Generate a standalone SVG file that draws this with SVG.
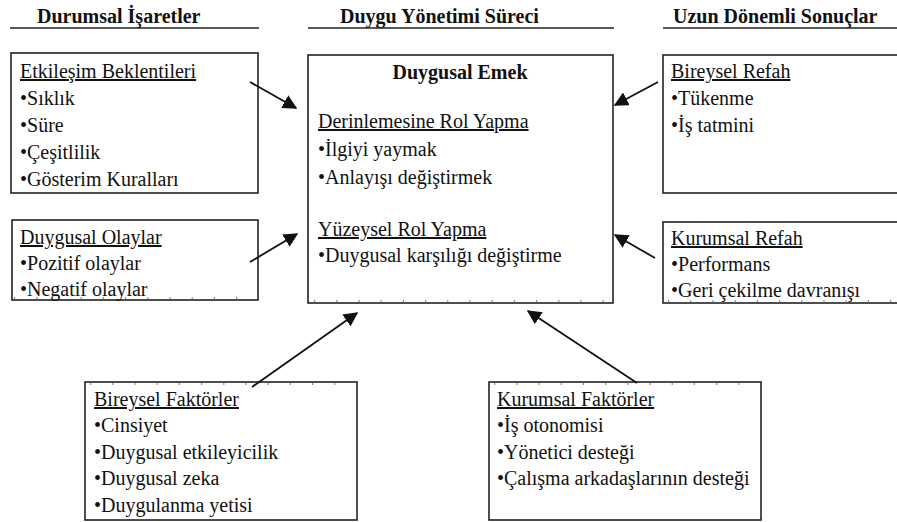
<svg xmlns="http://www.w3.org/2000/svg" width="897" height="522" viewBox="0 0 897 522">
<defs>
<style>
text{font-family:'Liberation Serif','Times New Roman',Times,serif;font-size:20px;fill:#111}
.h{font-weight:bold;font-size:20px}
.t{text-decoration:underline}
.b{font-weight:bold}
.box{fill:#fff;stroke:#222;stroke-width:1.6}
.rule{stroke:#222;stroke-width:1.4}
.conn{stroke:#111;stroke-width:1.8;fill:none;marker-end:url(#ah)}
.tick{stroke:#222;stroke-width:1;stroke-dasharray:1.2 21}
</style>
<marker id="ah" viewBox="0 0 10 10" refX="9" refY="5" markerWidth="8" markerHeight="8" markerUnits="strokeWidth" orient="auto">
<path d="M0,0 L10,5 L0,10 z" fill="#111"/>
</marker>
</defs>
<rect width="897" height="522" fill="#fff"/>

<g id="headers">
<text class="h" x="37" y="23">Durumsal İşaretler</text>
<line class="rule" x1="10" y1="28" x2="259" y2="28"/>
<text class="h" x="340" y="23">Duygu Yönetimi Süreci</text>
<line class="rule" x1="308" y1="28" x2="614" y2="28"/>
<text class="h" x="673" y="23">Uzun Dönemli Sonuçlar</text>
<line class="rule" x1="663" y1="28" x2="897" y2="28"/>
</g>

<g id="etkilesim">
<rect class="box" x="11" y="53" width="247" height="140"/>
<text class="t" x="20" y="78">Etkileşim Beklentileri</text>
<text x="20" y="105">•Sıklık</text>
<text x="20" y="132">•Süre</text>
<text x="20" y="159">•Çeşitlilik</text>
<text x="20" y="186">•Gösterim Kuralları</text>
</g>

<g id="duygusal-olaylar">
<rect class="box" x="12" y="220" width="246" height="80"/>
<line class="tick" x1="14" y1="298" x2="256" y2="298"/>
<text class="t" x="20" y="244">Duygusal Olaylar</text>
<text x="20" y="270">•Pozitif olaylar</text>
<text x="20" y="296">•Negatif olaylar</text>
</g>

<g id="duygusal-emek">
<rect class="box" x="308" y="55" width="305" height="248"/>
<line class="tick" x1="314" y1="301" x2="611" y2="301"/>
<text class="b" x="460" y="79" text-anchor="middle">Duygusal Emek</text>
<text class="t" x="318" y="128">Derinlemesine Rol Yapma</text>
<text x="318" y="156">•İlgiyi yaymak</text>
<text x="318" y="184">•Anlayışı değiştirmek</text>
<text class="t" x="318" y="236">Yüzeysel Rol Yapma</text>
<text x="318" y="262">•Duygusal karşılığı değiştirme</text>
</g>

<g id="bireysel-refah">
<rect class="box" x="663" y="55" width="236" height="138"/>
<text class="t" x="671" y="78">Bireysel Refah</text>
<text x="671" y="105">•Tükenme</text>
<text x="671" y="132">•İş tatmini</text>
</g>

<g id="kurumsal-refah">
<rect class="box" x="663" y="222" width="236" height="81"/>
<line class="tick" x1="668" y1="301" x2="895" y2="301"/>
<text class="t" x="671" y="245">Kurumsal Refah</text>
<text x="671" y="271">•Performans</text>
<text x="671" y="297">•Geri çekilme davranışı</text>
</g>

<g id="bireysel-faktorler">
<rect class="box" x="85" y="382" width="272" height="138"/>
<line class="tick" x1="90" y1="384" x2="355" y2="384"/>
<text class="t" x="94" y="406">Bireysel Faktörler</text>
<text x="94" y="432">•Cinsiyet</text>
<text x="94" y="459">•Duygusal etkileyicilik</text>
<text x="94" y="485">•Duygusal zeka</text>
<text x="94" y="512">•Duygulanma yetisi</text>
</g>

<g id="kurumsal-faktorler">
<rect class="box" x="489" y="382" width="272" height="138"/>
<line class="tick" x1="494" y1="384" x2="740" y2="384"/>
<text class="t" x="497" y="406">Kurumsal Faktörler</text>
<text x="497" y="432">•İş otonomisi</text>
<text x="497" y="459">•Yönetici desteği</text>
<text x="497" y="485">•Çalışma arkadaşlarının desteği</text>
</g>

<g id="connectors">
<line class="conn" x1="250" y1="82" x2="296" y2="108"/>
<line class="conn" x1="250" y1="262" x2="297" y2="234"/>
<line class="conn" x1="658" y1="82" x2="615" y2="105"/>
<line class="conn" x1="655" y1="258" x2="615" y2="235"/>
<line class="conn" x1="252" y1="387" x2="357" y2="313"/>
<line class="conn" x1="637" y1="383" x2="528" y2="311"/>
</g>
</svg>
